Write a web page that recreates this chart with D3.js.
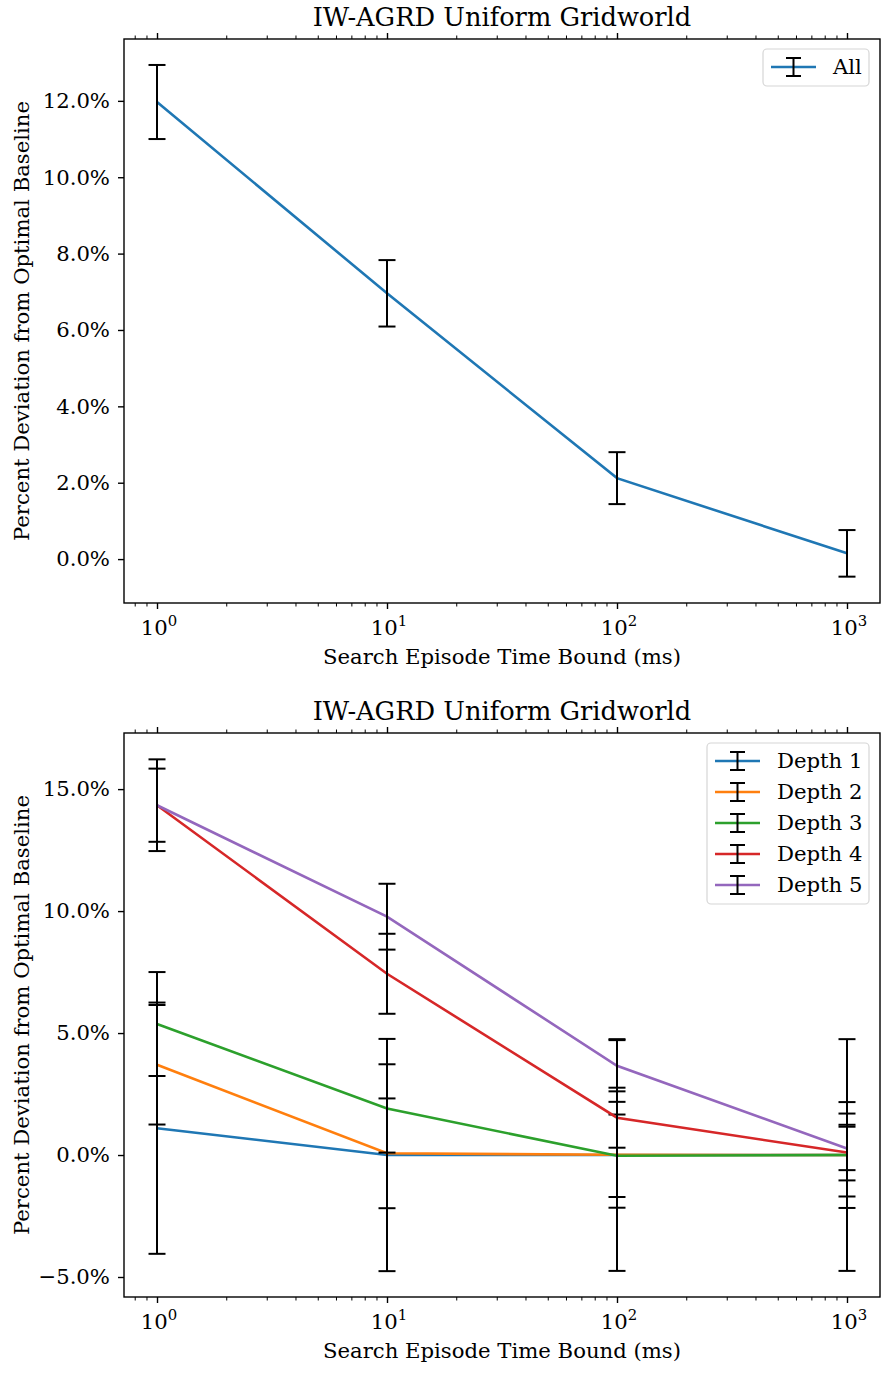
<!DOCTYPE html>
<html>
<head>
<meta charset="utf-8">
<script src="https://cdn.jsdelivr.net/npm/d3@7"></script>
<style>
body { margin: 0; background: #fff; }
text { font-family: "DejaVu Serif", serif; fill: #000; }
</style>
</head>
<body>
<svg id="fig"></svg>
<script>
// x values (ms) shared by both panels
var times = [1, 10, 100, 1000]

// top panel: all depths pooled
var allMean = [11.97, 6.96, 2.12, 0.15]
var allErr  = [0.97, 0.87, 0.68, 0.61]

// bottom panel: per depth
var depthNames = ["Depth 1", "Depth 2", "Depth 3", "Depth 4", "Depth 5"]
var depthMean = [
  [1.10, 0.00, 0.00, 0.00],
  [3.70, 0.07, 0.01, 0.00],
  [5.37, 1.91, -0.03, 0.00],
  [14.34, 7.43, 1.53, 0.10],
  [14.34, 9.77, 3.66, 0.27]
]
var depthErr = [
  [5.15, 4.76, 4.75, 4.75],
  [2.45, 2.25, 2.17, 2.17],
  [2.13, 1.81, 1.69, 1.70],
  [1.88, 1.64, 1.23, 1.14],
  [1.50, 1.35, 1.05, 0.89]
]
var colors = ["#1f77b4", "#ff7f0e", "#2ca02c", "#d62728", "#9467bd"]

var topTicks = [0, 2, 4, 6, 8, 10, 12]
var botTicks = [-5, 0, 5, 10, 15]
var majorX = [1, 10, 100, 1000]

var W = 883, H = 1373
var svg = d3.select("#fig").attr("width", W).attr("height", H)

var fsTick = 21.2, fsTitle = 25.7
var L = 124, R = 880

function pct(v) {
  var s = Math.abs(v).toFixed(1) + "%"
  return v < 0 ? "\u2212" + s : s
}

function minorTicks(x) {
  var d = x.domain(), out = []
  for (var e = -1; e <= 3; e++) {
    for (var k = 2; k <= 9; k++) {
      var v = k * Math.pow(10, e)
      if (v >= d[0] && v <= d[1]) out.push(v)
    }
  }
  return out
}

function panel(top, bottom, ydom, yticks, series, legendBox) {
  var g = svg.append("g")
  var x = d3.scaleLog().domain([Math.pow(10, -0.1435), Math.pow(10, 3.1435)]).range([L, R])
  var y = d3.scaleLinear().domain(ydom).range([bottom, top])

  // x ticks on bottom and top spines, labels only at bottom
  var xb = g.append("g").attr("transform", "translate(0," + bottom + ")")
  xb.append("g").attr("class", "minor")
    .call(d3.axisBottom(x).tickValues(minorTicks(x)).tickFormat("").tickSize(3.5).tickSizeOuter(0))
  xb.append("g").attr("class", "major")
    .call(d3.axisBottom(x).tickValues(majorX).tickFormat("").tickSize(6).tickSizeOuter(0))
  var xt = g.append("g").attr("transform", "translate(0," + top + ")")
  xt.append("g").attr("class", "minor")
    .call(d3.axisTop(x).tickValues(minorTicks(x)).tickFormat("").tickSize(3.5).tickSizeOuter(0))
  xt.append("g").attr("class", "major")
    .call(d3.axisTop(x).tickValues(majorX).tickFormat("").tickSize(6).tickSizeOuter(0))
  g.selectAll(".domain").remove()
  g.selectAll(".minor .tick line").attr("stroke", "#000").attr("stroke-width", 1)
  g.selectAll(".major .tick line").attr("stroke", "#000").attr("stroke-width", 1.4)

  // major x labels 10^n
  majorX.forEach(function(v) {
    var t = g.append("text")
      .attr("x", x(v) + 2).attr("y", bottom + 32)
      .attr("text-anchor", "middle").style("font-size", fsTick + "px")
    t.append("tspan").text("10")
    t.append("tspan").attr("dy", -8.8).style("font-size", "14.9px").text(Math.round(Math.log10(v)))
  })

  // y axis
  var ya = g.append("g").attr("transform", "translate(" + L + ",0)")
    .call(d3.axisLeft(y).tickValues(yticks).tickFormat(pct).tickSize(6).tickPadding(8))
  ya.select(".domain").remove()
  ya.selectAll(".tick line").attr("stroke", "#000").attr("stroke-width", 1.4)
  ya.selectAll(".tick text").style("font-size", fsTick + "px")

  // clip for data
  var cid = "clip" + top
  svg.append("clipPath").attr("id", cid).append("rect")
    .attr("x", L).attr("y", top).attr("width", R - L).attr("height", bottom - top)
  var dg = g.append("g").attr("clip-path", "url(#" + cid + ")")

  var line = d3.line().x(function(d) { return x(d[0]) }).y(function(d) { return y(d[1]) })
  series.forEach(function(s) {
    var pts = times.map(function(t, i) { return [t, s.mean[i], s.err[i]] })
    dg.append("path").datum(pts).attr("d", line)
      .attr("fill", "none").attr("stroke", s.color).attr("stroke-width", 2.6)
    var eb = dg.append("g").selectAll("g").data(pts).enter().append("g")
    eb.append("line")
      .attr("x1", function(d) { return x(d[0]) }).attr("x2", function(d) { return x(d[0]) })
      .attr("y1", function(d) { return y(d[1] - d[2]) }).attr("y2", function(d) { return y(d[1] + d[2]) })
      .attr("stroke", "#000").attr("stroke-width", 2)
    ;[-1, 1].forEach(function(sg) {
      eb.append("line")
        .attr("x1", function(d) { return x(d[0]) - 8.5 }).attr("x2", function(d) { return x(d[0]) + 8.5 })
        .attr("y1", function(d) { return y(d[1] + sg * d[2]) }).attr("y2", function(d) { return y(d[1] + sg * d[2]) })
        .attr("stroke", "#000").attr("stroke-width", 2)
    })
  })

  // frame
  g.append("rect").attr("x", L).attr("y", top).attr("width", R - L).attr("height", bottom - top)
    .attr("fill", "none").attr("stroke", "#000").attr("stroke-width", 1.4)

  // title and labels
  g.append("text").attr("x", (L + R) / 2).attr("y", top - 13).attr("text-anchor", "middle")
    .style("font-size", fsTitle + "px").text("IW-AGRD Uniform Gridworld")
  g.append("text").attr("x", (L + R) / 2).attr("y", bottom + 61).attr("text-anchor", "middle")
    .style("font-size", fsTick + "px").text("Search Episode Time Bound (ms)")
  g.append("text").attr("transform", "translate(29," + ((top + bottom) / 2) + ") rotate(-90)")
    .attr("text-anchor", "middle").style("font-size", fsTick + "px")
    .text("Percent Deviation from Optimal Baseline")

  // legend
  var lg = g.append("g")
  lg.append("rect").attr("x", legendBox[0]).attr("y", legendBox[1])
    .attr("width", legendBox[2]).attr("height", 6 + series.length * 31)
    .attr("rx", 4).attr("fill", "#fff").attr("fill-opacity", 0.8)
    .attr("stroke", "#d6d6d6").attr("stroke-width", 1.2)
  series.forEach(function(s, i) {
    var cy = legendBox[1] + 18 + i * 31
    var x0 = legendBox[0] + 8
    lg.append("line").attr("x1", x0).attr("x2", x0 + 45).attr("y1", cy).attr("y2", cy)
      .attr("stroke", s.color).attr("stroke-width", 2.6)
    var cx = x0 + 22.5
    lg.append("line").attr("x1", cx).attr("x2", cx).attr("y1", cy - 9).attr("y2", cy + 9)
      .attr("stroke", "#000").attr("stroke-width", 2)
    ;[-9, 9].forEach(function(o) {
      lg.append("line").attr("x1", cx - 7.5).attr("x2", cx + 7.5).attr("y1", cy + o).attr("y2", cy + o)
        .attr("stroke", "#000").attr("stroke-width", 2)
    })
    lg.append("text").attr("x", x0 + 62).attr("y", cy + 7).style("font-size", fsTick + "px").text(s.name)
  })
}

panel(39, 603, [-1.15, 13.62], topTicks,
  [{ name: "All", color: colors[0], mean: allMean, err: allErr }],
  [763, 49, 106])

panel(733, 1297, [-5.82, 17.3], botTicks,
  depthNames.map(function(n, i) { return { name: n, color: colors[i], mean: depthMean[i], err: depthErr[i] } }),
  [707, 743, 162])
</script>
</body>
</html>
